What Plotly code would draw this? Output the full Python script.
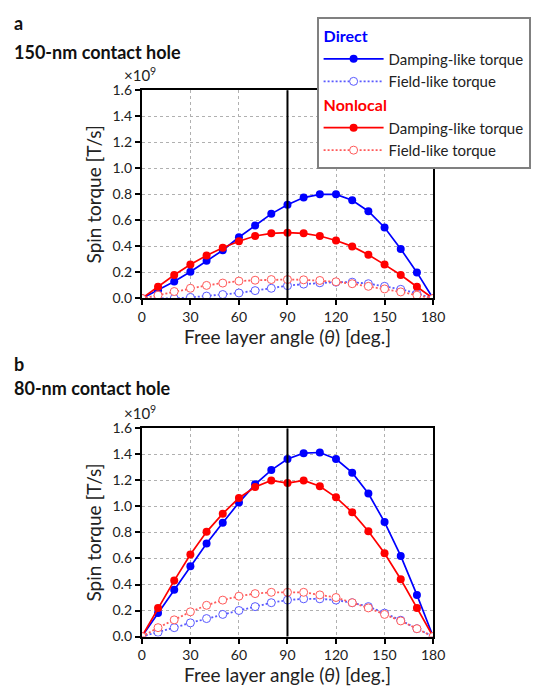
import plotly.graph_objects as go

angles = list(range(0, 181, 10))

# Panel a: 150-nm contact hole (x1e9 T/s)
a_direct_damping = [0, 0.062, 0.13, 0.205, 0.29, 0.37, 0.47, 0.56, 0.65, 0.72, 0.775, 0.80, 0.80, 0.755, 0.67, 0.545, 0.38, 0.20, 0]
a_direct_field = [0, 0.0, 0.0, 0.008, 0.018, 0.03, 0.042, 0.06, 0.078, 0.098, 0.11, 0.12, 0.125, 0.125, 0.113, 0.093, 0.07, 0.038, 0]
a_nonlocal_damping = [0, 0.09, 0.18, 0.26, 0.33, 0.39, 0.44, 0.48, 0.50, 0.505, 0.50, 0.48, 0.445, 0.40, 0.335, 0.26, 0.18, 0.09, 0]
a_nonlocal_field = [0, 0.025, 0.053, 0.078, 0.10, 0.118, 0.133, 0.14, 0.145, 0.145, 0.143, 0.138, 0.128, 0.113, 0.093, 0.073, 0.05, 0.025, 0]

# Panel b: 80-nm contact hole (x1e9 T/s)
b_direct_damping = [0, 0.18, 0.36, 0.54, 0.715, 0.875, 1.03, 1.17, 1.28, 1.365, 1.41, 1.415, 1.365, 1.26, 1.10, 0.88, 0.62, 0.32, 0]
b_direct_field = [0, 0.0325, 0.068, 0.105, 0.138, 0.17, 0.20, 0.23, 0.26, 0.28, 0.29, 0.29, 0.28, 0.26, 0.23, 0.18, 0.125, 0.06, 0]
b_nonlocal_damping = [0, 0.22, 0.43, 0.63, 0.805, 0.945, 1.065, 1.15, 1.20, 1.18, 1.20, 1.155, 1.07, 0.955, 0.81, 0.64, 0.44, 0.22, 0]
b_nonlocal_field = [0, 0.068, 0.128, 0.19, 0.24, 0.28, 0.31, 0.33, 0.34, 0.34, 0.34, 0.32, 0.30, 0.26, 0.22, 0.17, 0.12, 0.06, 0]

x_ticks = [0, 30, 60, 90, 120, 150, 180]
y_ticks = [0.0, 0.2, 0.4, 0.6, 0.8, 1.0, 1.2, 1.4, 1.6]
y_tick_text = ["0.0", "0.2", "0.4", "0.6", "0.8", "1.0", "1.2", "1.4", "1.6"]

BLUE = "#0000ff"
RED = "#ff0000"
LBLUE = "#5a5aff"
LRED = "#ff5a5a"
FONT = "Lato"
DOT = "2px,2px"

fig = go.Figure()

def add_panel(xa, ya, dd, df, nd, nf, show):
    fig.add_trace(go.Scatter(x=angles, y=dd, xaxis=xa, yaxis=ya, mode="lines+markers",
                             line=dict(color=BLUE, width=1.7), marker=dict(color=BLUE, size=8, symbol="circle"),
                             name="Damping-like torque", legendgroup="direct", showlegend=show,
                             legendgrouptitle=dict(text="<b>Direct</b>", font=dict(color=BLUE, size=16, family=FONT))))
    fig.add_trace(go.Scatter(x=angles, y=df, xaxis=xa, yaxis=ya, mode="lines+markers",
                             line=dict(color=LBLUE, width=1.8, dash=DOT),
                             marker=dict(color="white", size=8, symbol="circle", line=dict(color=LBLUE, width=1)),
                             name="Field-like torque", legendgroup="direct", showlegend=show))
    fig.add_trace(go.Scatter(x=angles, y=nd, xaxis=xa, yaxis=ya, mode="lines+markers",
                             line=dict(color=RED, width=1.7), marker=dict(color=RED, size=8, symbol="circle"),
                             name="Damping-like torque", legendgroup="nonlocal", showlegend=show,
                             legendgrouptitle=dict(text="<b>Nonlocal</b>", font=dict(color=RED, size=16, family=FONT))))
    fig.add_trace(go.Scatter(x=angles, y=nf, xaxis=xa, yaxis=ya, mode="lines+markers",
                             line=dict(color=LRED, width=1.8, dash=DOT),
                             marker=dict(color="white", size=8, symbol="circle", line=dict(color=LRED, width=1)),
                             name="Field-like torque", legendgroup="nonlocal", showlegend=show))

add_panel("x", "y", a_direct_damping, a_direct_field, a_nonlocal_damping, a_nonlocal_field, True)
add_panel("x2", "y2", b_direct_damping, b_direct_field, b_nonlocal_damping, b_nonlocal_field, False)

W, H = 548, 693
xdom = [142 / W, 442 / W]
ydom_a = [1 - 296.7 / H, 1 - 83.3 / H]
ydom_b = [1 - 643.3 / H, 1 - 430 / H]

xcommon = dict(range=[0, 180], tickvals=x_ticks, showline=True, linecolor="black", linewidth=2, mirror=True,
               ticks="outside", ticklen=5, tickwidth=1.5, tickcolor="black", showgrid=True, gridcolor="#b0b0b0",
               griddash="dot", gridwidth=1, zeroline=False, tickfont=dict(size=14, family=FONT, color="#222"),
               title=dict(text="Free layer angle (<i>θ</i>) [deg.]", font=dict(size=19, family=FONT, color="#222"), standoff=4),
               domain=xdom)
ycommon = dict(range=[0, 1.6], tickvals=y_ticks, ticktext=y_tick_text, showline=True, linecolor="black", linewidth=2,
               mirror=True, ticks="outside", ticklen=5, tickwidth=1.5, tickcolor="black", showgrid=True,
               gridcolor="#b0b0b0", griddash="dot", gridwidth=1, zeroline=False,
               tickfont=dict(size=14, family=FONT, color="#222"),
               title=dict(text="Spin torque [T/s]", font=dict(size=19, family=FONT, color="#222"), standoff=6))

fig.update_layout(
    width=W, height=H, margin=dict(l=0, r=0, t=0, b=0),
    paper_bgcolor="white", plot_bgcolor="white",
    font=dict(family=FONT, color="#222"),
    xaxis=dict(**xcommon, anchor="y"),
    yaxis=dict(**ycommon, domain=ydom_a, anchor="x"),
    xaxis2=dict(**xcommon, anchor="y2"),
    yaxis2=dict(**ycommon, domain=ydom_b, anchor="x2"),
    legend=dict(x=322 / W, y=1 - 8 / H, xanchor="left", yanchor="top", bgcolor="white",
                bordercolor="#808080", borderwidth=2, font=dict(size=15, family=FONT, color="#222"),
                tracegroupgap=0, itemwidth=60, groupclick="toggleitem"),
    showlegend=True,
)

for ya in ["y", "y2"]:
    fig.add_shape(type="line", xref="x" if ya == "y" else "x2", yref=f"{ya} domain", x0=90, x1=90, y0=0, y1=1,
                  line=dict(color="black", width=2))

annos = [
    dict(text="<b>a</b>", x=8, y=14),
    dict(text="<b>150-nm contact hole</b>", x=8, y=44),
    dict(text="<b>b</b>", x=8, y=364),
    dict(text="<b>80-nm contact hole</b>", x=8, y=389),
]
for a in annos:
    fig.add_annotation(text=a["text"], xref="paper", yref="paper", x=a["x"] / W, y=1 - a["y"] / H,
                       xanchor="left", yanchor="middle", showarrow=False, font=dict(size=18, family=FONT, color="#111"))
for yy in [67, 414]:
    fig.add_annotation(text="×10<sup>9</sup>", xref="paper", yref="paper", x=122 / W, y=1 - yy / H,
                       xanchor="left", yanchor="middle", showarrow=False, font=dict(size=15, family=FONT, color="#222"))

fig.write_html("out.html")
